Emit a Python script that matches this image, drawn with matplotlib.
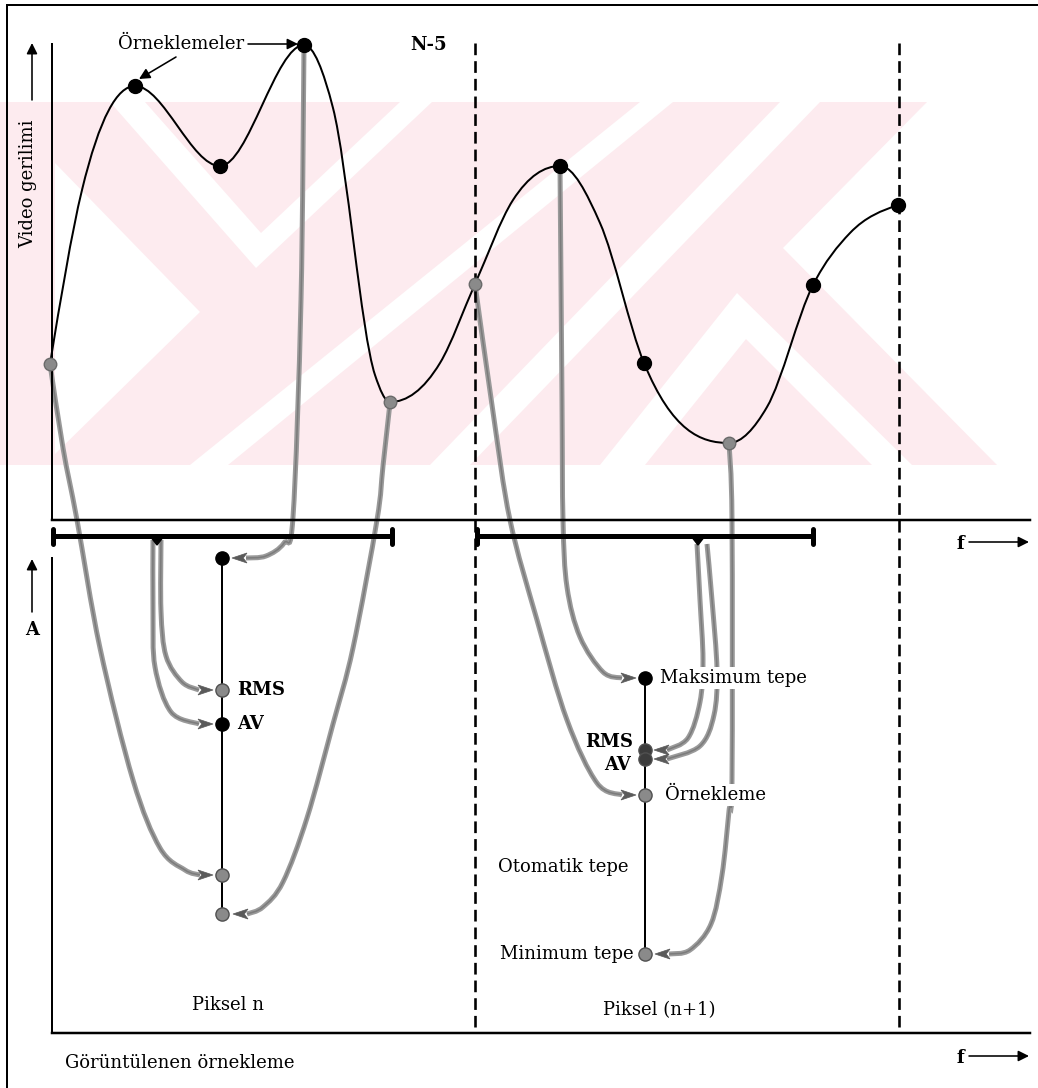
import numpy as np
import matplotlib
matplotlib.use("Agg")
import matplotlib.pyplot as plt
from matplotlib.path import Path
from matplotlib.patches import PathPatch, Polygon

W, H = 1038, 1088
PT = 0.72  # points per pixel at dpi 100

# video signal line (image pixels, y grows downwards)
curve_x = [50, 82, 135, 220, 304, 333, 375, 390, 440, 475,
           513, 560, 600, 644, 729, 767, 813, 850, 898]
curve_y = [364, 190, 86, 166, 45, 108, 375, 402, 363, 284,
           200, 166, 223, 363, 443, 407, 285, 233, 205]

# samples taken on the curve (1 = gray sample, 0 = black sample)
sample_x = [50, 135, 220, 304, 390, 475, 560, 644, 729, 813, 898]
sample_y = [364, 86, 166, 45, 402, 284, 166, 363, 443, 285, 205]
sample_gray = [1, 0, 0, 0, 1, 1, 0, 0, 1, 0, 0]

# detector outputs of pixel n and pixel n+1 (0 black, 1 gray, 2 dark gray)
pix_n_x = 222
pix_n_y = [558, 690, 724, 875, 914]
pix_n_kind = [0, 1, 0, 1, 1]
pix_n1_x = 645
pix_n1_y = [678, 750, 759, 795, 954]
pix_n1_kind = [0, 2, 2, 1, 1]

# gray traces: waypoints, arrow tip x, arrow direction (+1 right, -1 left)
traces = [
    ([(50, 364), (63, 448), (77, 520), (100, 648), (133, 780), (160, 848), (185, 870), (200, 875)], 213, 1),
    ([(304, 45), (301, 300), (293, 517), (284, 543), (266, 556), (246, 558)], 232, -1),
    ([(390, 403), (383, 466), (377, 520), (353, 648), (333, 724), (307, 818), (283, 882), (263, 907), (247, 914)], 233, -1),
    ([(161, 540), (161, 611), (166, 656), (182, 682), (199, 690)], 213, 1),
    ([(153, 540), (153, 611), (155, 667), (171, 712), (199, 724)], 213, 1),
    ([(475, 284), (493, 412), (510, 520), (537, 620), (567, 720), (597, 783), (622, 795)], 636, 1),
    ([(560, 166), (562, 400), (563, 520), (567, 587), (580, 637), (603, 672), (622, 678)], 636, 1),
    ([(697, 544), (700, 600), (703, 660), (700, 702), (688, 738), (667, 750)], 654, -1),
    ([(707, 544), (712, 600), (717, 670), (714, 715), (700, 746), (667, 759)], 654, -1),
    ([(729, 443), (732, 520), (732, 780), (729, 811), (722, 875), (711, 924), (690, 950), (669, 954)], 655, -1),
]

# brackets grouping the samples of each pixel: (x start, x end, notch x)
brackets = [(53, 392, 157), (477, 813, 698)]
bracket_y = 536
pixel_bounds_x = [475, 899]

# watermark (pale logo behind the upper plot)
wm_band = [(0, 102), (927, 102), (783, 248), (997, 465), (0, 465)]
wm_white = [
    [(110, 102), (145, 102), (261, 233), (400, 102), (432, 102), (256, 268)],
    [(55, 163), (200, 312), (55, 454)],
    [(190, 465), (228, 465), (673, 102), (640, 102)],
    [(780, 102), (820, 102), (470, 465), (430, 465)],
    [(737, 293), (912, 465), (872, 465), (746, 339), (645, 465), (600, 465)],
]


def knot_slopes(x, y):
    # three-point slopes, flat at turning points, limited to stay monotone
    x = np.asarray(x, float)
    y = np.asarray(y, float)
    h = np.diff(x)
    d = np.diff(y) / h
    m = np.zeros_like(y)
    for k in range(1, len(x) - 1):
        if d[k - 1] * d[k] > 0:
            m[k] = (d[k - 1] * h[k] + d[k] * h[k - 1]) / (h[k - 1] + h[k])
    m[0] = 1.5 * d[0] - 0.5 * m[1]
    m[-1] = 1.5 * d[-1] - 0.5 * m[-2]
    for k in range(len(d)):
        if d[k] == 0:
            m[k] = m[k + 1] = 0
            continue
        a, b = m[k] / d[k], m[k + 1] / d[k]
        s = a * a + b * b
        if s > 9:
            t = 3 / np.sqrt(s)
            m[k], m[k + 1] = t * a * d[k], t * b * d[k]
    return m


def hermite_path(x, y):
    m = knot_slopes(x, y)
    verts = [(x[0], y[0])]
    codes = [Path.MOVETO]
    for i in range(len(x) - 1):
        h = x[i + 1] - x[i]
        verts += [(x[i] + h / 3, y[i] + m[i] * h / 3),
                  (x[i + 1] - h / 3, y[i + 1] - m[i + 1] * h / 3),
                  (x[i + 1], y[i + 1])]
        codes += [Path.CURVE4] * 3
    return Path(verts, codes)


def smooth_path(pts):
    # Catmull-Rom through the given points, drawn as cubic Bezier segments
    p = np.asarray(pts, float)
    ext = np.vstack([p[0], p, p[-1]])
    verts = [p[0]]
    codes = [Path.MOVETO]
    for i in range(len(p) - 1):
        p0, p1, p2, p3 = ext[i], ext[i + 1], ext[i + 2], ext[i + 3]
        verts += [p1 + (p2 - p0) / 6, p2 - (p3 - p1) / 6, p2]
        codes += [Path.CURVE4] * 3
    return Path(verts, codes)


def arrow_head(ax, tip_x, y, direction, color="#5a5a5a", length=15, half=5):
    base = tip_x - direction * length
    notch = tip_x - direction * length * 0.75
    ax.add_patch(Polygon([(tip_x, y), (base, y - half), (notch, y), (base, y + half)],
                         closed=True, facecolor=color, edgecolor=color, lw=0.5, zorder=4))


plt.rcParams["font.family"] = "DejaVu Serif"
fig = plt.figure(figsize=(W / 100, H / 100), dpi=100)
ax = fig.add_axes([0, 0, 1, 1])
ax.set_xlim(0, W)
ax.set_ylim(H, 0)
ax.axis("off")

# watermark
ax.add_patch(Polygon(wm_band, closed=True, facecolor="#fdebef", edgecolor="none", zorder=0))
for poly in wm_white:
    ax.add_patch(Polygon(poly, closed=True, facecolor="white", edgecolor="none", zorder=0.5))

# outer frame (top and left only visible)
ax.plot([7, W], [5, 5], color="black", lw=2 * PT, zorder=3)
ax.plot([7, 7], [5, H], color="black", lw=2 * PT, zorder=3)

# axes of the two panels
ax.plot([52, 52], [44, 520], color="black", lw=2 * PT, zorder=3)
ax.plot([52, 1030], [520, 520], color="black", lw=2.5 * PT, zorder=3)
ax.plot([52, 52], [558, 1033], color="black", lw=2 * PT, zorder=3)
ax.plot([52, 1030], [1033, 1033], color="black", lw=2.5 * PT, zorder=3)

for xb in pixel_bounds_x:
    ax.plot([xb, xb], [43, 1027], color="black", lw=2.6 * PT, dashes=(4.5, 2.3), zorder=3)

# gray traces from the samples to the detectors
for pts, tip, direction in traces:
    ax.add_patch(PathPatch(smooth_path(pts), facecolor="none", edgecolor="#9a9a9a",
                           lw=5 * PT, capstyle="butt", zorder=2))
    ax.add_patch(PathPatch(smooth_path(pts), facecolor="none", edgecolor="#7c7c7c",
                           lw=1.6 * PT, capstyle="butt", zorder=2.1))
    arrow_head(ax, tip, pts[-1][1], direction)

# brackets
for x0, x1, xn in brackets:
    ax.plot([x0, x1], [bracket_y, bracket_y], color="black", lw=5 * PT,
            solid_capstyle="butt", zorder=3)
    for xe in (x0, x1):
        ax.plot([xe, xe], [bracket_y - 7, bracket_y + 8], color="black", lw=5 * PT,
                solid_capstyle="round", zorder=3)
    ax.add_patch(Polygon([(xn - 7, bracket_y), (xn + 7, bracket_y), (xn, bracket_y + 9)],
                         closed=True, facecolor="black", edgecolor="black", zorder=3))

# video signal curve and its samples
ax.add_patch(PathPatch(hermite_path(curve_x, curve_y), facecolor="none",
                       edgecolor="black", lw=2 * PT, zorder=3))
for x, y, g in zip(sample_x, sample_y, sample_gray):
    ax.plot(x, y, "o", ms=10 if not g else 9, color="#8a8a8a" if g else "black",
            mec="#6a6a6a" if g else "black", zorder=4)

# detector columns
kind_color = {0: "black", 1: "#8a8a8a", 2: "#3c3c3c"}
for xc, ys, kinds in ((pix_n_x, pix_n_y, pix_n_kind), (pix_n1_x, pix_n1_y, pix_n1_kind)):
    ax.plot([xc, xc], [min(ys), max(ys)], color="black", lw=2 * PT, zorder=3)
    for y, k in zip(ys, kinds):
        ax.plot(xc, y, "o", ms=9.5, color=kind_color[k], mec="#505050" if k else "black", zorder=4)

# small arrows
arw = dict(arrowstyle="-|>", color="black", lw=1.6 * PT, mutation_scale=16, shrinkA=0, shrinkB=0)
ax.annotate("", xy=(298, 44), xytext=(248, 44), arrowprops=arw, zorder=5)
ax.annotate("", xy=(139, 79), xytext=(176, 57), arrowprops=arw, zorder=5)
ax.annotate("", xy=(32, 43), xytext=(32, 100), arrowprops=arw, zorder=5)
ax.annotate("", xy=(32, 559), xytext=(32, 612), arrowprops=arw, zorder=5)
ax.annotate("", xy=(1029, 542), xytext=(969, 542), arrowprops=arw, zorder=5)
ax.annotate("", xy=(1029, 1056), xytext=(969, 1056), arrowprops=arw, zorder=5)

# labels
fs = 13
wbox = dict(facecolor="white", edgecolor="none", pad=1.5)
ax.text(118, 44, "Örneklemeler", fontsize=fs, ha="left", va="center", zorder=5)
ax.text(429, 45, "N-5", fontsize=fs, fontweight="bold", ha="center", va="center", zorder=5)
ax.text(28, 184, "Video gerilimi", fontsize=fs, rotation=90, ha="center", va="center", zorder=5)
ax.text(32, 630, "A", fontsize=fs, fontweight="bold", ha="center", va="center", zorder=5)
ax.text(960, 544, "f", fontsize=fs, fontweight="bold", ha="center", va="center", zorder=5)
ax.text(960, 1058, "f", fontsize=fs, fontweight="bold", ha="center", va="center", zorder=5)
ax.text(237, 690, "RMS", fontsize=fs, fontweight="bold", ha="left", va="center", zorder=5)
ax.text(237, 724, "AV", fontsize=fs, fontweight="bold", ha="left", va="center", zorder=5)
ax.text(228, 1005, "Piksel n", fontsize=fs, ha="center", va="center", zorder=5)
ax.text(65, 1063, "Görüntülenen örnekleme", fontsize=fs, ha="left", va="center", zorder=5)
ax.text(660, 678, "Maksimum tepe", fontsize=fs, ha="left", va="center", bbox=wbox, zorder=5)
ax.text(633, 742, "RMS", fontsize=fs, fontweight="bold", ha="right", va="center", zorder=5)
ax.text(631, 765, "AV", fontsize=fs, fontweight="bold", ha="right", va="center", zorder=5)
ax.text(665, 795, "Örnekleme", fontsize=fs, ha="left", va="center", bbox=wbox, zorder=5)
ax.text(498, 867, "Otomatik tepe", fontsize=fs, ha="left", va="center", zorder=5)
ax.text(634, 954, "Minimum tepe", fontsize=fs, ha="right", va="center", zorder=5)
ax.text(659, 1010, "Piksel (n+1)", fontsize=fs, ha="center", va="center", zorder=5)

fig.savefig("out.png", dpi=100, facecolor="white")
